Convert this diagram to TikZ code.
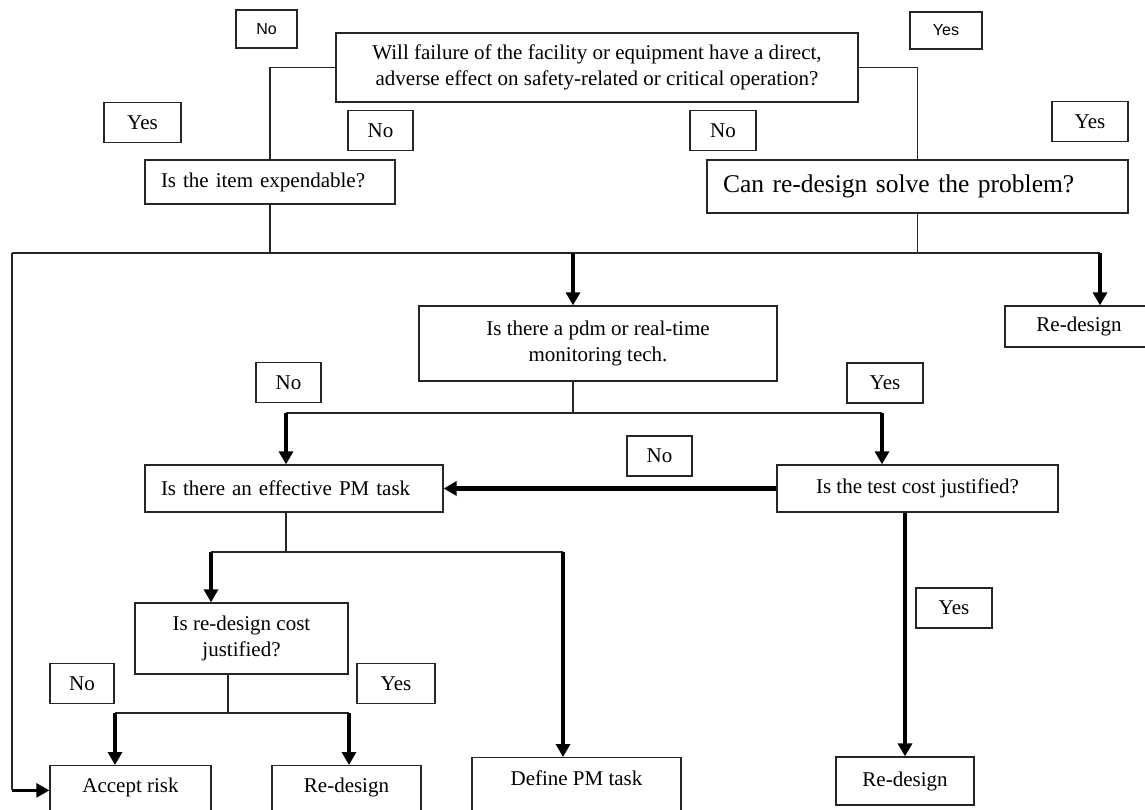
\documentclass[tikz,border=0pt]{standalone}
\usepackage{fontspec}
\setmainfont{Liberation Serif}
\newfontfamily\smallsans{Liberation Sans}
\usetikzlibrary{arrows.meta}

\begin{document}
\begin{tikzpicture}[x=1pt,y=-1pt,
    qbox/.style={draw=black!85,line width=1.3pt,inner sep=0pt,align=center,
      font=\fontsize{21}{25.5}\selectfont},
    lbox/.style={qbox,align=left,inner xsep=16pt,text width=#1},
    openbox/.style={qbox,anchor=north,text height=14pt,text depth=60pt,inner ysep=13pt},
    answer/.style={qbox,minimum height=40},
    topanswer/.style={qbox,font=\smallsans\fontsize{16}{19}\selectfont},
    wire/.style={draw=black!85,line width=1.2pt},
    arr/.style={line width=3.2pt,-{Triangle[width=14pt,length=13pt]}},
    bigarr/.style={line width=4.6pt,-{Triangle[width=14pt,length=13pt]}}]
  \path[use as bounding box,clip] (0,0) rectangle (1145,809);

  % questions
  \node[qbox,minimum width=522,minimum height=69] (fail) at (597,67.5)
    {Will failure of the facility or equipment have a direct,\\adverse effect on safety-related or critical operation?};
  \node[lbox=218pt,minimum height=44] (expend) at (270,182) {Is the item expendable?};
  \node[lbox=389pt,minimum height=53,font=\fontsize{25.5}{30}\selectfont] (redes) at (917.5,186.5)
    {Can re-design solve the problem?};
  \node[qbox,minimum width=358,minimum height=75] (pdm) at (598,343.5)
    {Is there a pdm or real-time\\monitoring tech.};
  \node[lbox=266pt,minimum height=47] (pmtask) at (294,488.5) {Is there an effective PM task};
  \node[qbox,minimum width=281,minimum height=47] (testcost) at (917.5,488.5) {Is the test cost justified?};
  \node[qbox,minimum width=213,minimum height=71] (rdcost) at (241.5,638.5) {Is re-design cost\\justified?};

  % outcomes
  \node[qbox,minimum width=148,minimum height=41] (redesA) at (1079,326.5) {Re-design};
  \node[openbox,minimum width=161] (accept) at (130.5,765) {Accept risk};
  \node[openbox,minimum width=149] (redesB) at (346.5,765) {Re-design};
  \node[openbox,minimum width=209,inner ysep=14pt] (definepm) at (576.5,757) {Define PM task};
  \node[qbox,minimum width=138,minimum height=48] (redesC) at (905,781) {Re-design};

  % yes / no tags
  \node[topanswer,minimum width=61,minimum height=38] (noTop) at (266.5,29) {No};
  \node[topanswer,minimum width=72,minimum height=37] (yesTop) at (946,30.5) {Yes};
  \foreach \nm/\cx/\cy/\w/\txt in {yesA/142.5/122.5/77/Yes, noA/380.5/130.5/65/No,
      noB/723/130.5/66/No, yesB/1090/121.5/76/Yes, noC/288.5/382.5/65/No,
      yesC/885/383/76/Yes, noD/659.5/456/65/No, yesD/954/608/76/Yes,
      noE/82/683.5/64/No, yesE/396/683.5/78/Yes}
    \node[answer,minimum width=\w] (\nm) at (\cx,\cy) {\txt};

  % junctions
  \coordinate (busL) at (12,253);
  \coordinate (busR) at (1100,253);
  \coordinate (jpdm) at (573,253);
  \coordinate (forkA) at (286,413);
  \coordinate (forkB) at (882,413);
  \coordinate (forkC) at (211,552);
  \coordinate (forkD) at (563,552);
  \coordinate (stemE) at (228,713);
  \coordinate (forkE) at (115,713);
  \coordinate (forkF) at (349,713);

  % connectors
  \draw[wire] (fail.west) -| (expend.north);
  \draw[wire] (fail.east) -| (redes.north);
  \draw[wire] (expend.south) -- (expend.south |- busL);
  \draw[wire] (redes.south) -- (redes.south |- busL);
  \draw[wire] (busL) -- (busR);
  \draw[arr] (busR) -- (busR |- redesA.north);
  \draw[arr] (jpdm) -- (jpdm |- pdm.north);
  \draw[wire] (pdm.south -| jpdm) -- (jpdm |- forkA);
  \draw[wire] (forkA) -- (forkB);
  \draw[arr] (forkA) -- (forkA |- pmtask.north);
  \draw[arr] (forkB) -- (forkB |- testcost.north);
  \draw[bigarr] (testcost.west) -- (pmtask.east);
  \draw[bigarr] (testcost.south -| redesC) -- (redesC.north);
  \draw[wire] (pmtask.south -| forkA) -- (forkA |- forkC);
  \draw[wire] (forkC) -- (forkD);
  \draw[arr] (forkC) -- (forkC |- rdcost.north);
  \draw[bigarr] (forkD) -- (forkD |- definepm.north);
  \draw[wire] (rdcost.south -| stemE) -- (stemE);
  \draw[wire] (forkE) -- (forkF);
  \draw[arr] (forkE) -- (forkE |- accept.north);
  \draw[arr] (forkF) -- (forkF |- redesB.north);
  \draw[wire] (busL) -- (busL |- accept.mid west);
  \draw[arr,line width=2.6pt] (busL |- accept.mid west) -- (accept.mid west);
\end{tikzpicture}
\end{document}
